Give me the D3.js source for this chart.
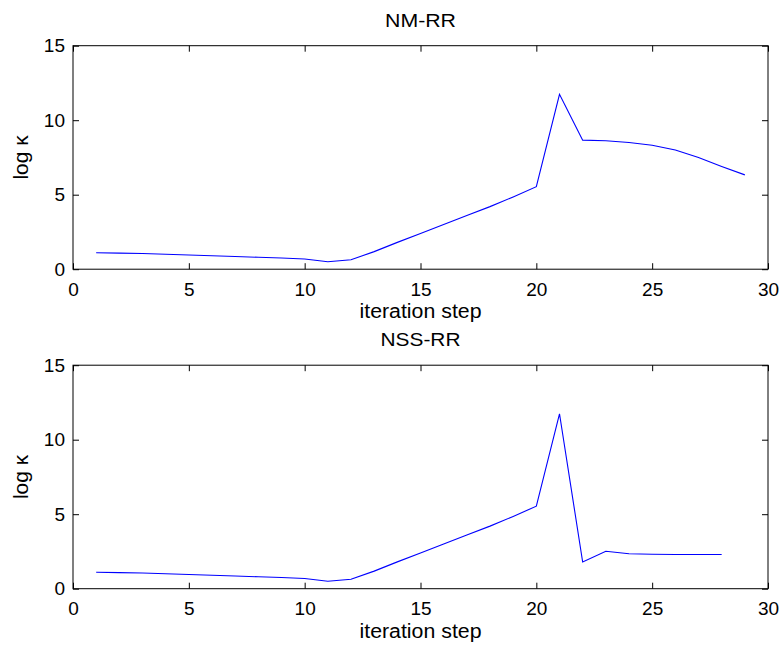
<!DOCTYPE html>
<html>
<head>
<meta charset="utf-8">
<script src="https://cdn.jsdelivr.net/npm/d3@7"></script>
<style>
  body { margin: 0; background: #fff; }
  text { font-family: "Liberation Sans", Arial, sans-serif; }
</style>
</head>
<body>
<div id="chart"></div>
<script>
// iteration steps and log(kappa) for both runs
const stepsNM = d3.range(1, 30);
const kappaNM = [1.1, 1.08, 1.05, 1.0, 0.95, 0.9, 0.85, 0.8, 0.75, 0.68,
  0.5, 0.63, 1.18, 1.8, 2.4, 3.0, 3.6, 4.2, 4.85, 5.54,
  11.74, 8.66, 8.62, 8.5, 8.32, 8.0, 7.5, 6.9, 6.33];

const stepsNSS = d3.range(1, 29);
const kappaNSS = [1.1, 1.08, 1.05, 1.0, 0.95, 0.9, 0.85, 0.8, 0.75, 0.68,
  0.5, 0.63, 1.18, 1.8, 2.4, 3.0, 3.6, 4.2, 4.85, 5.54,
  11.74, 1.79, 2.51, 2.35, 2.31, 2.3, 2.3, 2.3];

const xTicks = [0, 5, 10, 15, 20, 25, 30];
const yTicks = [0, 5, 10, 15];

const panels = [
  {title: "NM-RR", steps: stepsNM, values: kappaNM, top: 45.7, titleW: 71},
  {title: "NSS-RR", steps: stepsNSS, values: kappaNSS, top: 365.2, titleW: 80}
];

const width = 783, height = 648;
const left = 73, right = 768, plotH = 223.5;

const svg = d3.select("#chart").append("svg")
  .attr("width", width)
  .attr("height", height);

const x = d3.scaleLinear().domain([0, 30]).range([left, right]);

panels.forEach(p => {
  const y = d3.scaleLinear().domain([0, 15]).range([p.top + plotH, p.top]);
  const g = svg.append("g");

  // ticks point inward on all four sides (matlab style)
  g.append("g")
    .attr("transform", "translate(0," + (p.top + plotH) + ")")
    .call(d3.axisBottom(x).tickValues(xTicks).tickSize(-6).tickPadding(13));
  g.append("g")
    .attr("transform", "translate(" + left + ",0)")
    .call(d3.axisLeft(y).tickValues(yTicks).tickSize(-6).tickPadding(8));
  g.append("g")
    .attr("transform", "translate(0," + p.top + ")")
    .call(d3.axisTop(x).tickValues(xTicks).tickSize(-6).tickFormat(""));
  g.append("g")
    .attr("transform", "translate(" + right + ",0)")
    .call(d3.axisRight(y).tickValues(yTicks).tickSize(-6).tickFormat(""));

  g.selectAll(".domain").remove();
  g.selectAll(".tick line").attr("stroke", "#000");
  g.selectAll(".tick text")
    .attr("fill", "#000")
    .style("font-size", "19px")
    .style("font-family", "'Liberation Sans', Arial, sans-serif");

  g.append("rect")
    .attr("x", left)
    .attr("y", p.top)
    .attr("width", right - left)
    .attr("height", plotH)
    .attr("fill", "none")
    .attr("stroke", "#000")
    .attr("stroke-width", 1);

  const line = d3.line()
    .x((d, i) => x(p.steps[i]))
    .y(d => y(d));

  g.append("path")
    .datum(p.values)
    .attr("d", line)
    .attr("fill", "none")
    .attr("stroke", "#0000ff")
    .attr("stroke-width", 1.1);

  g.append("text")
    .attr("x", (left + right) / 2)
    .attr("y", p.top - 19)
    .attr("text-anchor", "middle")
    .attr("textLength", p.titleW)
    .attr("lengthAdjust", "spacingAndGlyphs")
    .style("font-size", "18px")
    .text(p.title);

  g.append("text")
    .attr("x", (left + right) / 2)
    .attr("y", p.top + plotH + 49)
    .attr("text-anchor", "middle")
    .attr("textLength", 122)
    .attr("lengthAdjust", "spacingAndGlyphs")
    .style("font-size", "20px")
    .text("iteration step");

  g.append("text")
    .attr("transform", "translate(28," + (p.top + plotH / 2) + ")rotate(-90)")
    .attr("text-anchor", "middle")
    .style("font-size", "21px")
    .text("log κ");
});
</script>
</body>
</html>
